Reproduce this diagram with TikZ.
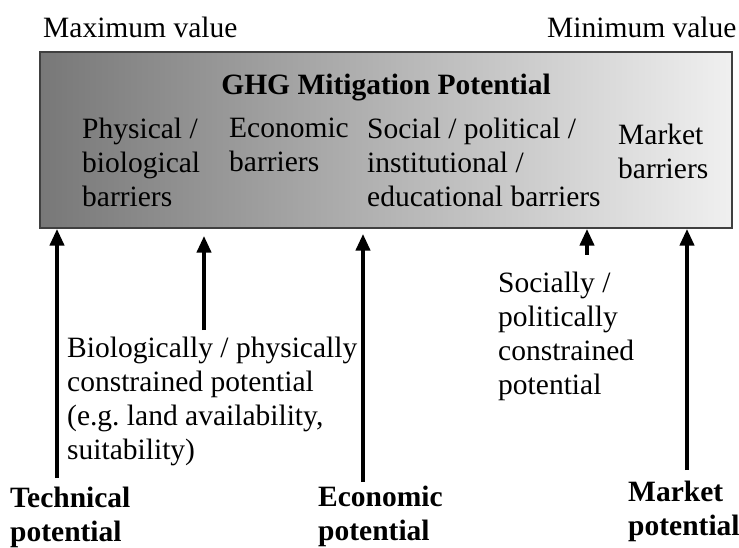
\documentclass[tikz,border=0pt]{standalone}
\usepackage{fontspec}
\setmainfont{Liberation Serif}
\usetikzlibrary{arrows.meta}

\begin{document}
\begin{tikzpicture}[x=1pt,y=-1pt,
  lbl/.style={font=\fontsize{29.5}{34}\selectfont,align=left,inner sep=0pt,anchor=north west},
  boldlbl/.style={lbl,font=\fontsize{29.5}{34}\selectfont\bfseries},
  potarrow/.style={line width=4.5pt,-{Triangle[length=17pt,width=14pt]}}]
\useasboundingbox (0,0) rectangle (739,548);

% shaded barrier box
\node[draw=black!75,line width=1.5pt,left color=black!53,right color=black!6,
      minimum width=692pt,minimum height=176pt,inner sep=0pt] (box) at (386,140) {};
\node[boldlbl,anchor=base] (title) at (386,95) {GHG Mitigation Potential};

\node[lbl] (maxv) at (43,17)  {Maximum value};
\node[lbl] (minv) at (547,17) {Minimum value};

% barriers
\node[lbl] (phys) at (82,118)  {Physical /\\biological\\barriers};
\node[lbl] (econ) at (229,118) {Economic\\barriers};
\node[lbl] (soc)  at (367,118) {Social / political /\\institutional /\\educational barriers};
\node[lbl] (mkt)  at (618,124) {Market\\barriers};

% constrained potentials
\node[lbl] (bio)    at (67,337)  {Biologically / physically\\constrained potential\\(e.g.\ land availability,\\suitability)};
\node[lbl] (socpol) at (498,272) {Socially /\\politically\\constrained\\potential};

% potentials
\node[boldlbl] (tech)  at (10,487)  {Technical\\potential};
\node[boldlbl] (econp) at (318,486) {Economic\\potential};
\node[boldlbl] (mktp)  at (628,481) {Market\\potential};

% arrow feet
\coordinate (t0) at (57,478);
\coordinate (b0) at (204,330);
\coordinate (e0) at (363,482);
\coordinate (s0) at (587,255);
\coordinate (m0) at (687,470);

\path[potarrow]
(t0) edge (t0 |- box.south)
(b0) edge ([yshift=-7pt]b0 |- box.south)
(e0) edge ([yshift=-5pt]e0 |- box.south)
(s0) edge (s0 |- box.south)
(m0) edge (m0 |- box.south)
;
\end{tikzpicture}
\end{document}
